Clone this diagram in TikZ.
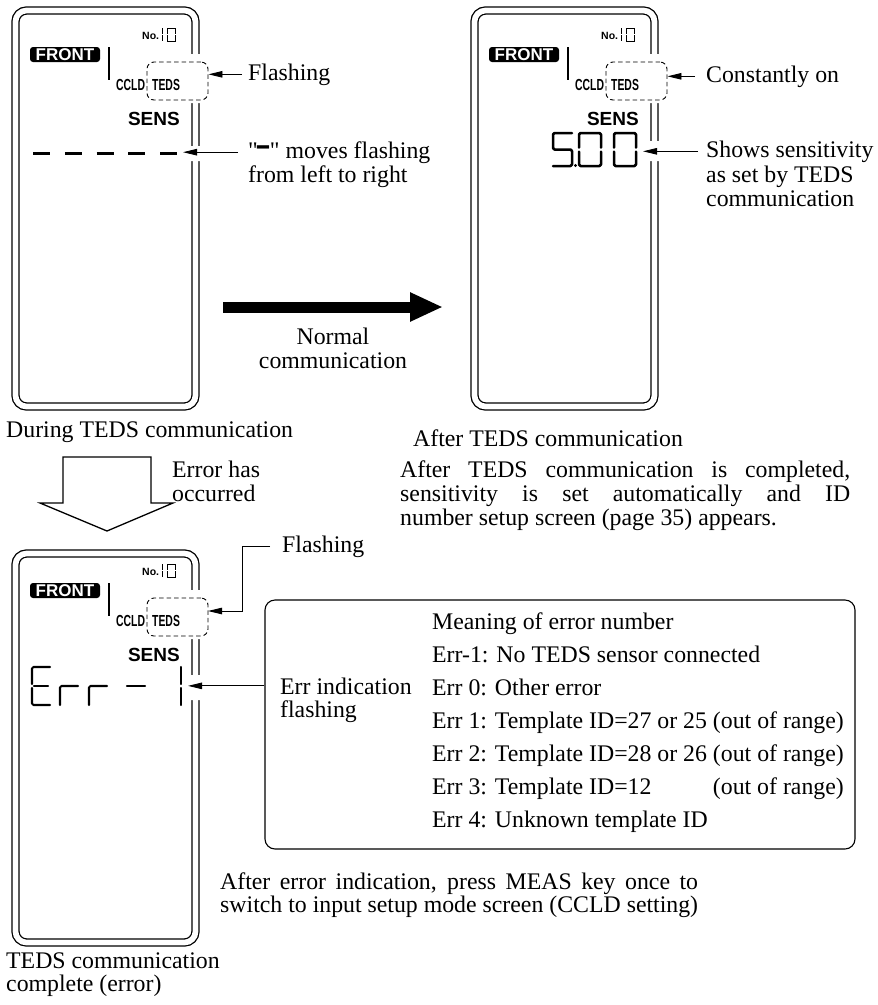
\documentclass[tikz,border=0pt]{standalone}
\usepackage{graphicx}
\usepackage{fontspec}
\setmainfont{Liberation Serif}
\setsansfont{Liberation Sans}
\newfontfamily\serifraw{Liberation Serif}
\usetikzlibrary{arrows.meta}
\newlength\parwB
\newcommand\bodyfont{\fontsize{23.8}{23.5}\serifraw\selectfont}
\newcommand\lcdfont[1]{\fontsize{#1}{#1}\selectfont\sffamily\bfseries}
% seven-segment "0": x y W H
\newcommand\segzero[4]{%
  \draw[seg] (#1,#2+#4/2-2) -- (#1,#2) -- (#1+#3,#2) -- (#1+#3,#2+#4/2-2);
  \draw[seg] (#1,#2+#4/2+2) -- (#1,#2+#4) -- (#1+#3,#2+#4) -- (#1+#3,#2+#4/2+2);}
% common display contents: prefix dx dy
\newcommand\dispbase[3]{%
 \begin{scope}[shift={(#2,#3)}]
  \node[lcd=10.5, anchor=base west] (#1-no) at (142,39) {No.};
  \draw[thinseg] (162.5,28) -- (162.5,33.8) (162.5,35.2) -- (162.5,41);
  \draw[thinseg] (167,33.8) -- (167,28) -- (175.5,28) -- (175.5,33.8);
  \draw[thinseg] (167,35.2) -- (167,41) -- (175.5,41) -- (175.5,35.2);
  \node[frontbox] (#1-front) at (65,54.5) {FRONT};
  \draw[line width=1.6pt] (109,47) -- (109,80);
  \node[tedsbox] (#1-box) at (177.5,81) {};
  \node[lcd=16, anchor=base west] (#1-ccld) at (116,90) {\scalebox{0.65}[1]{CCLD}};
  \node[lcd=16, anchor=base west] (#1-teds) at (152,90) {\scalebox{0.65}[1]{TEDS}};
  \node[lcd=19, anchor=base east] (#1-sens) at (180,125) {SENS};
 \end{scope}}
\begin{document}
\settowidth{\parwB}{\bodyfont switch to input setup mode screen (CCLD setting)}%
\global\parwB=\parwB
\begin{tikzpicture}[x=1pt,y=-1pt,
  txt/.style={font=\bodyfont, inner sep=0pt, anchor=base west},
  lcd/.style={font=\lcdfont{#1}, inner sep=0pt},
  dispframe/.style={draw, double, double distance=5.7pt, line width=1.3pt, rounded corners=11pt, minimum width=180pt, inner sep=0pt},
  tedsbox/.style={draw, dash pattern=on 4.5pt off 3pt, line width=0.9pt, rounded corners=7pt, fill=white, minimum width=61pt, minimum height=38pt, inner sep=0pt},
  frontbox/.style={fill=black, rounded corners=3pt, text=white, font=\lcdfont{17}, inner sep=0pt, minimum width=70pt, minimum height=15pt},
  callout/.style={line width=0.9pt, -{Triangle[length=14pt,width=6.5pt]}},
  seg/.style={line width=2.5pt, line cap=round, line join=round, rounded corners=1.5pt},
  thinseg/.style={line width=0.8pt},
  bigarrow/.style={line width=11pt, -{Triangle[length=33pt,width=27pt]}},
  hollow/.style={draw, line width=1.3pt, fill=white, line join=miter},
  errframe/.style={draw, line width=1.1pt, rounded corners=10pt, minimum width=590pt, minimum height=249pt, inner sep=0pt}
]
\useasboundingbox (0,0) rectangle (878,1005);

% display frames
\node[dispframe, minimum height=396pt] (dA) at (105.5,208.5) {};
\node[dispframe, minimum height=396pt] (dB) at (564.5,208.5) {};
\node[dispframe, minimum height=389pt] (dC) at (105.5,748) {};
% gaps in the frames where callouts cross
\fill[white] (186,54) rectangle (205,103) (186,146) rectangle (205,161);
\fill[white] (645,54) rectangle (664,103) (645,141) rectangle (664,161);
\fill[white] (186,590) rectangle (205,639) (186,675) rectangle (205,700);

\dispbase{A}{0}{0}
\dispbase{B}{459}{0}
\dispbase{C}{0}{536}

% ---- display A: moving dashes
\foreach \i in {0,...,4} \draw[line width=3pt] (33+\i*31.8,153) -- (50+\i*31.8,153);
\coordinate (A-dtip) at (183,152);
\node[txt] (A-flash) at (248,80) {Flashing};
\draw[callout] ([xshift=-6pt]A-flash.west) -- (A-box.east |- A-flash.west);
\node[txt] (A-moves) at (248,158) {"\scalebox{1}[2]{\textbf{–}}" moves flashing};
\node[txt] (A-moves2) at (248,182.5) {from left to right};
\draw[callout] ([xshift=-10pt]A-moves.west) -- (A-dtip |- A-moves.west);
\node[txt] (A-lab) at (6,437) {During TEDS communication};

% ---- display B: 5.00
\draw[seg] (572,133) -- (553,133) -- (553,149.5) -- (572,149.5) -- (572,166) -- (553,166);
\fill (575.5,165.5) circle (1.6);
\segzero{579}{133}{22}{33}
\segzero{614}{133}{22}{33}
\coordinate (B-dtip) at (643,150);
\node[txt] (B-const) at (706,82) {Constantly on};
\draw[callout] ([xshift=-11pt]B-const.west) -- (B-box.east |- B-const.west);
\node[txt] (B-shows) at (706,157) {Shows sensitivity};
\node[txt] (B-shows2) at (706,182) {as set by TEDS};
\node[txt] (B-shows3) at (706,206) {communication};
\draw[callout] ([xshift=-8pt]B-shows.west) -- (B-dtip |- B-shows.west);
\node[txt] (B-lab) at (413,446) {After TEDS communication};
\node[txt] (p1) at (400,477) {\makebox[450pt][s]{After TEDS communication is completed,}};
\node[txt] (p2) at (400,501) {\makebox[450pt][s]{sensitivity is set automatically and ID}};
\node[txt] (p3) at (400,525) {number setup screen (page 35) appears.};

% ---- normal communication arrow
\coordinate (na) at (223,307);
\coordinate (nb) at (443,307);
\draw[bigarrow] (na) -- (nb);
\node[txt, anchor=base] (norm1) at (333,344) {Normal};
\node[txt, anchor=base] (norm2) at (333,368) {communication};

% ---- error arrow
\draw[hollow] (63,457) -- (151,457) -- (151,503) -- (173,503) -- (107,531) -- (40,503) -- (63,503) -- cycle;
\node[txt] (err1) at (172,477) {Error has};
\node[txt] (err2) at (172,501) {occurred};

% ---- display C: Err-1
\begin{scope}[seg/.append style={line width=2.1pt}]
 \draw[seg] (50,667) -- (32,667) -- (32,684);
 \draw[seg] (34,686) -- (48,686);
 \draw[seg] (32,688) -- (32,705) -- (50,705);
 \draw[seg] (60,705) -- (60,686) -- (78,686);
 \draw[seg] (89,705) -- (89,686) -- (107,686);
 \draw[seg] (127,686) -- (145,686);
 \draw[seg] (181,667) -- (181,684);
 \draw[seg] (181,688) -- (181,705);
\end{scope}
\coordinate (C-ftip) at (208,611);
\coordinate (C-etip) at (188,687);
\node[txt] (C-flash) at (282,552) {Flashing};
\draw[callout] ([xshift=-12pt]C-flash.west) -- ([xshift=-40pt]C-flash.west) |- (C-ftip);

\node[errframe] (errbox) at (560,724.5) {};
\node[txt] (errind) at (280,694) {Err indication};
\node[txt] (errind2) at (280,717) {flashing};
\draw[callout] (errbox.west |- errind.west) -- (C-etip |- errind.west);
\node[txt] (m0) at (432,629) {Meaning of error number};
\node[txt] (m1) at (432,662) {Err-1: No TEDS sensor connected};
\node[txt] (m2) at (432,695) {Err 0: Other error};
\node[txt] (m3) at (432,728) {Err 1: Template ID=27 or 25 (out of range)};
\node[txt] (m4) at (432,761) {Err 2: Template ID=28 or 26 (out of range)};
\node[txt] (m5) at (432,794) {Err 3: Template ID=12};
\node[txt, anchor=base east] (m5b) at (m3.base east |- m5.base) {(out of range)};
\node[txt] (m6) at (432,827) {Err 4: Unknown template ID};

\node[txt] (q1) at (220,889) {\makebox[\parwB][s]{After error indication, press MEAS key once to}};
\node[txt] (q2) at (220,912) {switch to input setup mode screen (CCLD setting)};

\node[txt] (C-lab1) at (6,968) {TEDS communication};
\node[txt] (C-lab2) at (6,991) {complete (error)};
\end{tikzpicture}
\end{document}
